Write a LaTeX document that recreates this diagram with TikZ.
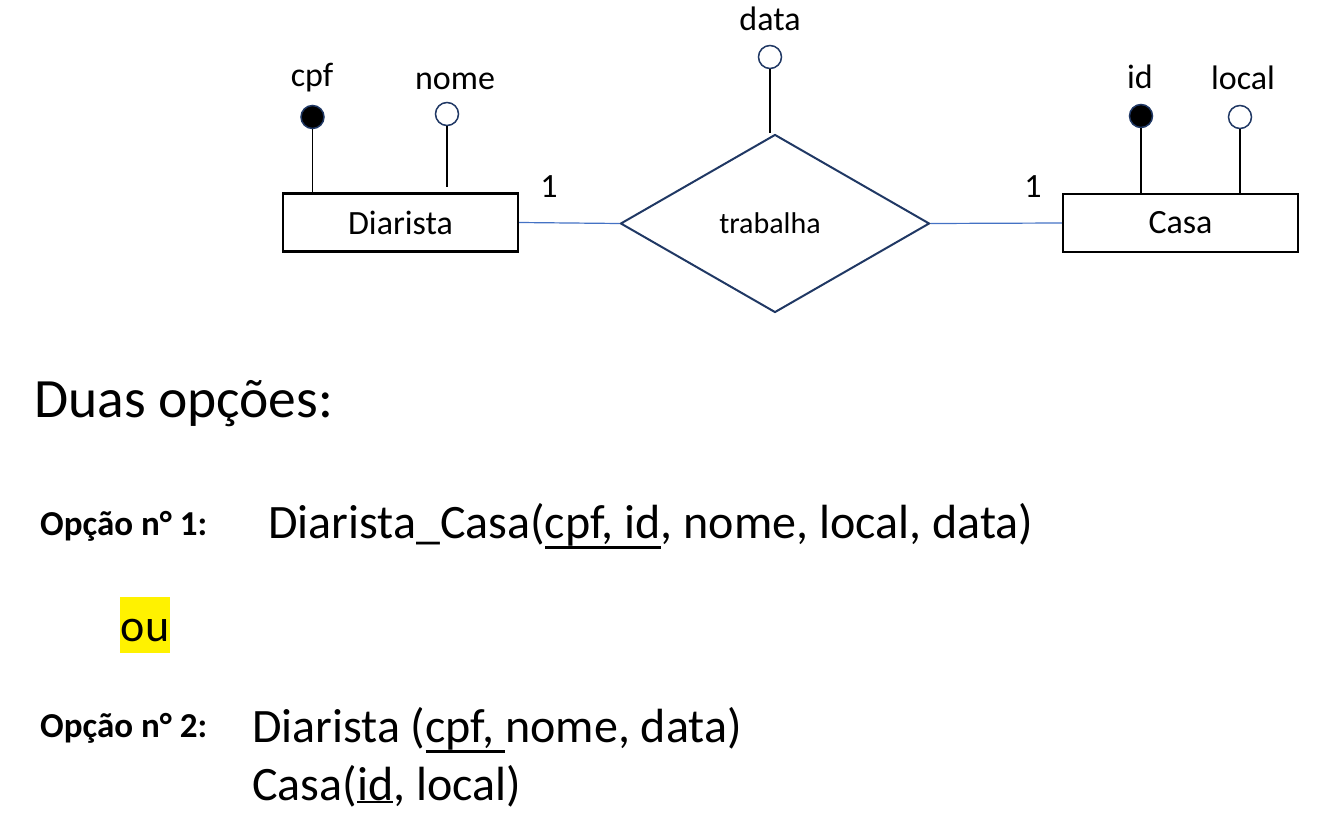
\documentclass[tikz,border=0pt]{standalone}
\usepackage{fontspec}
\setmainfont{Carlito}
\usetikzlibrary{shapes.geometric}
\definecolor{navy}{HTML}{203864}
\definecolor{linkblue}{HTML}{4472C4}
\newcommand\keyul[1]{\vtop{\hbox{#1}\kern0.5pt\hrule height 2.4pt}}
\begin{document}
\begin{tikzpicture}[x=1pt,y=-1pt,
  entity/.style={draw=black, line width=2.2pt, minimum width=235pt, minimum height=58pt, inner sep=0pt, font=\fontsize{34}{40}\selectfont},
  rel/.style={diamond, draw=navy, line width=2pt, minimum width=309pt, minimum height=178pt, inner sep=0pt, aspect=1.74, font=\fontsize{30}{36}\selectfont},
  keyattr/.style={circle, draw=navy, fill=black, line width=1.5pt, minimum size=23pt, inner sep=0pt},
  attr/.style={circle, draw=navy, fill=white, line width=1.5pt, minimum size=23pt, inner sep=0pt},
  lbl/.style={font=\fontsize{34}{40}\selectfont, inner sep=0pt, anchor=base},
  attrline/.style={draw=black, line width=1.3pt},
  link/.style={draw=linkblue, line width=1.2pt},
  big/.style={font=\fontsize{48}{58}\selectfont, inner sep=0pt, anchor=base west},
  opt/.style={font=\bfseries\fontsize{35}{42}\selectfont, inner sep=0pt, anchor=base west},
]
\useasboundingbox (0,0) rectangle (1318,813);

% entities and relationship
\node[entity] (D) at (400.5,222.5) {Diarista};
\node[entity] (C) at (1180.5,223) {Casa};
\node[rel] (R) at (775,223.5) {\hspace*{-10pt}trabalha};

% connectors
\draw[link] (D.east) -- (R.west);
\draw[link] (R.east) -- (C.west);
\node[lbl] (c1) at (549,198) {1};
\node[lbl] (c2) at (1033,198) {1};

% attributes of Diarista
\node[keyattr] (cpfc) at (312.5,117) {};
\node[attr] (nomec) at (447,114) {};
\node[lbl] (cpfl) at (312,87) {cpf};
\node[lbl] (nomel) at (455,90) {nome};
\draw[attrline] (cpfc.south) -- (cpfc.south |- D.north);
\draw[attrline] (nomec.south) -- ([yshift=5pt]nomec.south |- D.north);

% attribute of relationship
\node[attr] (datac) at (770,57) {};
\node[lbl] (datal) at (770,31) {data};
\draw[attrline] (datac.south) -- (datac.south |- R.north);

% attributes of Casa
\node[keyattr] (idc) at (1141,116) {};
\node[attr] (localc) at (1240,117) {};
\node[lbl] (idl) at (1140,89) {id};
\node[lbl] (locall) at (1243,90) {local};
\draw[attrline] (idc.south) -- (idc.south |- C.north);
\draw[attrline] (localc.south) -- (localc.south |- C.north);

% text below
\node[font=\fontsize{55.5}{66}\selectfont, inner sep=0pt, anchor=base west] (duas) at (34,417) {Duas opções:};
\node[opt] (op1) at (40,535) {Opção n° 1:};
\node[big] (t1) at (268,538) {Diarista\_Casa(\keyul{cpf, id}, nome, local, data)};
\node[fill=yellow, font=\fontsize{46}{56}\selectfont, text height=44pt, text depth=12pt, inner ysep=0pt, inner xsep=0.5pt, anchor=base] (ou) at (145,641) {ou};
\node[opt] (op2) at (40,737) {Opção n° 2:};
\node[big] (t2) at (252,742) {Diarista (\keyul{cpf, }nome, data)};
\node[big] (t3) at (252,800) {Casa(\keyul{id}, local)};
\end{tikzpicture}
\end{document}
